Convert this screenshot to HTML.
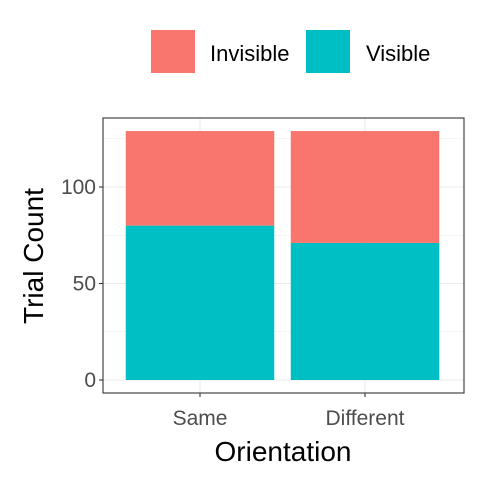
<!DOCTYPE html>
<html><head><meta charset="utf-8"><style>
body{margin:0;background:#fff}
svg{display:block;font-family:"Liberation Sans",Arial,sans-serif}
</style></head><body>
<svg id="chart" width="480" height="480" viewBox="0 0 480 480">
<rect width="480" height="480" fill="#fff"/>
<g id="legend">
<rect x="151" y="30" width="44" height="43" fill="#F8766D"/>
<text x="210" y="61" font-size="22" fill="#000">Invisible</text>
<rect x="306" y="30" width="44" height="43" fill="#00BFC4"/>
<text x="366" y="61" font-size="22" fill="#000">Visible</text>
</g>
<g id="grid"></g>
<g id="bars"></g>
<rect x="103" y="118" width="361" height="275" fill="none" stroke="#333" stroke-width="1.1"/>
<g id="axes"></g>
<text x="283" y="461" font-size="28" text-anchor="middle">Orientation</text>
<text transform="translate(43,256) rotate(-90)" font-size="28" text-anchor="middle">Trial Count</text>
</svg>
<script>
const categories=["Same","Different"];
const visible=[80,71];
const invisibleVals=[49,58];
const yTicks=[0,50,100];
const yMinor=[25,75,125];
const NS="http://www.w3.org/2000/svg";
const px0=103,px1=464,py0=118,py1=393;
const yScale=v=>380-v*1.93;
const step=165, xScale=i=>200+i*step, bw=148.5;
function mk(tag,attrs,parent){const e=document.createElementNS(NS,tag);for(const k in attrs)e.setAttribute(k,attrs[k]);document.getElementById(parent).appendChild(e);return e;}
yMinor.forEach(v=>{const l=mk('line',{x1:px0,x2:px1,y1:yScale(v),y2:yScale(v),stroke:'#ebebeb','stroke-width':0.6},'grid');

});
yTicks.forEach(v=>{const l=mk('line',{x1:px0,x2:px1,y1:yScale(v),y2:yScale(v),stroke:'#ebebeb','stroke-width':1.1},'grid');


const t=mk('line',{x1:px0-4,x2:px0,y1:yScale(v),y2:yScale(v),stroke:'#333','stroke-width':1.1},'axes');


const tx=mk('text',{x:px0-7,y:yScale(v)+7,'font-size':21,fill:'#4d4d4d','text-anchor':'end'},'axes');tx.textContent=v;

});
categories.forEach((c,i)=>{const x=xScale(i);
const g=mk('line',{x1:x,x2:x,y1:py0,y2:py1,stroke:'#ebebeb','stroke-width':1.1},'grid');


const vb=mk('rect',{x:x-bw/2,y:yScale(visible[i]),width:bw,height:yScale(0)-yScale(visible[i]),fill:'#00BFC4'},'bars');


const tot=visible[i]+invisibleVals[i];
const ib=mk('rect',{x:x-bw/2,y:yScale(tot),width:bw,height:yScale(visible[i])-yScale(tot),fill:'#F8766D'},'bars');


const t=mk('line',{x1:x,x2:x,y1:py1,y2:py1+4,stroke:'#333','stroke-width':1.1},'axes');


const tx=mk('text',{x:x,y:425,'font-size':21,fill:'#4d4d4d','text-anchor':'middle'},'axes');tx.textContent=c;

});
</script>
</body></html>
